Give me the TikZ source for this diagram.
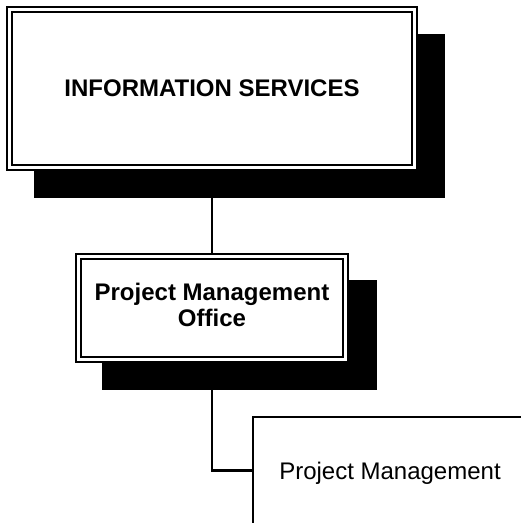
\documentclass[tikz,border=0pt]{standalone}
\usepackage{fontspec}
\setmainfont{Liberation Sans}
\usetikzlibrary{backgrounds}

\tikzset{
  unitbox/.style={draw, double, line width=2pt, double distance=3pt, fill=white,
    inner sep=0pt, outer sep=3.5pt, align=center,
    font=\fontsize{24}{26.7}\selectfont\bfseries},
  leafbox/.style={draw, line width=2.2pt, fill=white, inner sep=0pt, outer sep=0pt,
    font=\fontsize{24}{27}\selectfont},
  link/.style={line width=2.2pt},
}

\begin{document}
\begin{tikzpicture}[x=1pt,y=-1pt]
  \useasboundingbox (0,0) rectangle (521,523);

  \node[unitbox, minimum width=404.5pt, minimum height=157.4pt] (infoserv) at (212,88.3) {INFORMATION SERVICES}; % top unit
  \node[unitbox, minimum width=267.5pt, minimum height=103pt, text depth=5.6pt] (pmo) at (212,307.7) {Project Management\\Office}; % office
  \node[leafbox, anchor=north west, minimum width=274.4pt, minimum height=107pt, text height=17pt, text depth=0pt] (pm) at (252.8,417) {Project Management}; % leaf, runs off the page

  \begin{scope}[on background layer]
    \fill ([xshift=27.5pt,yshift=-27.5pt]infoserv.north west) rectangle ([xshift=27.5pt,yshift=-27.5pt]infoserv.south east); % shadow
    \fill ([xshift=27.5pt,yshift=-27.5pt]pmo.north west) rectangle ([xshift=27.5pt,yshift=-27.5pt]pmo.south east); % shadow
  \end{scope}

  \draw[link] (infoserv.south) -- (pmo.north);
  \draw[link] (pmo.south) |- (pm.west);
\end{tikzpicture}
\end{document}
